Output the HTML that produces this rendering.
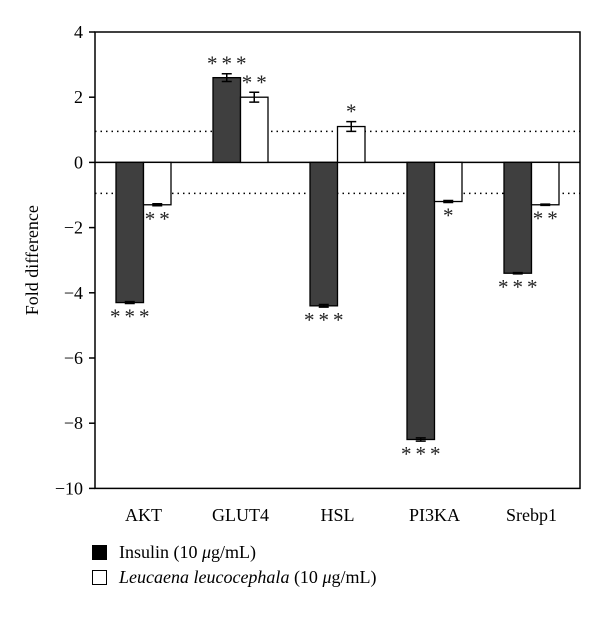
<!DOCTYPE html>
<html><head><meta charset="utf-8"><style>
body{margin:0;background:#fff;}
svg{display:block;font-family:"Liberation Serif",serif;}
</style></head><body>
<svg id="chart" width="600" height="617" viewBox="0 0 600 617"></svg>
<script>
const categories=["AKT","GLUT4","HSL","PI3KA","Srebp1"];
const insulin=[-4.3,2.6,-4.4,-8.5,-3.4];
const leucaena=[-1.3,2.0,1.1,-1.2,-1.3];
const insulinErr=[0.03,0.12,0.04,0.05,0.02];
const leucaenaErr=[0.03,0.15,0.15,0.03,0.02];
const insulinSig=["***","***","***","***","***"];
const leucaenaSig=["**","**","*","*","**"];
const yTicks=[4,2,0,-2,-4,-6,-8,-10];
const thresholds=[0.95,-0.95];

const NS="http://www.w3.org/2000/svg";
const svg=document.getElementById('chart');
const L=95,R=580,T=32,B=488.4,ymin=-10,ymax=4;
const y=v=>T+(ymax-v)*(B-T)/(ymax-ymin);
const gw=(R-L)/categories.length;
const gx=i=>L+gw*(i+0.5);
const bw=27.5;
function mk(tag,attrs,parent){const e=document.createElementNS(NS,tag);for(const k in attrs)e.setAttribute(k,attrs[k]);(parent||svg).appendChild(e);return e;}

const frame=mk('rect',{x:L,y:T,width:R-L,height:B-T,fill:'none',stroke:'#000','stroke-width':1.5});



yTicks.forEach(t=>{
  const tk=mk('line',{x1:L-6,x2:L,y1:y(t),y2:y(t),stroke:'#000','stroke-width':1.5});
  
  
  const tx=mk('text',{x:L-12,y:y(t)+6,'text-anchor':'end','font-size':18});
  tx.textContent=t<0?'\u2212'+Math.abs(t):String(t);
  
  
});
const zl=mk('line',{x1:L,x2:R,y1:y(0),y2:y(0),stroke:'#000','stroke-width':1.5});


thresholds.forEach(t=>{
  const d=mk('line',{x1:L,x2:R,y1:y(t),y2:y(t),stroke:'#000','stroke-width':1.5,'stroke-dasharray':'1.5,4'});
  
  
});

function bar(i,v,err,sig,left,fill){
  const x=left?gx(i)-bw:gx(i);
  const y0=Math.min(y(0),y(v)),h=Math.abs(y(v)-y(0));
  const r=mk('rect',{x:x,y:y0,width:bw,height:h,fill:fill,stroke:'#000','stroke-width':1.3});
  
  
  const cx=x+bw/2;
  const e=mk('path',{d:`M${cx},${y(v+err)}V${y(v-err)}M${cx-5},${y(v+err)}H${cx+5}M${cx-5},${y(v-err)}H${cx+5}`,stroke:'#000','stroke-width':1.5,fill:'none'});
  
  
  const ty=v>=0?y(v+err)-3:y(v-err)+20;
  const s=mk('text',{x:cx+2,y:ty,'text-anchor':'middle','font-size':21,'letter-spacing':4,fill:'#222'});
  s.textContent=sig;
  
  
}
categories.forEach((c,i)=>{
  bar(i,insulin[i],insulinErr[i],insulinSig[i],true,'#3f3f3f');
  bar(i,leucaena[i],leucaenaErr[i],leucaenaSig[i],false,'#fff');
  const t=mk('text',{x:gx(i),y:521,'text-anchor':'middle','font-size':18});
  t.textContent=c;
  
  
});
const yt=mk('text',{x:0,y:0,'text-anchor':'middle','font-size':18,transform:`translate(38,${(T+B)/2}) rotate(-90)`});
yt.textContent='Fold difference';


</script>
<div style="position:absolute;left:0;top:0;width:600px;height:617px;pointer-events:none;font-family:'Liberation Serif',serif;font-size:18px;">
  <div style="position:absolute;left:92px;top:542px;white-space:nowrap;">
    <span style="display:inline-block;width:15px;height:15px;background:#000;vertical-align:-2px;margin-right:12px;"></span>Insulin (10 <i>μ</i>g/mL)</div>
  <div style="position:absolute;left:92px;top:567px;white-space:nowrap;">
    <span style="display:inline-block;width:13px;height:13px;border:1px solid #000;background:#fff;vertical-align:-2px;margin-right:12px;"></span><i>Leucaena leucocephala</i> (10 <i>μ</i>g/mL)</div>
</div>
</body></html>
